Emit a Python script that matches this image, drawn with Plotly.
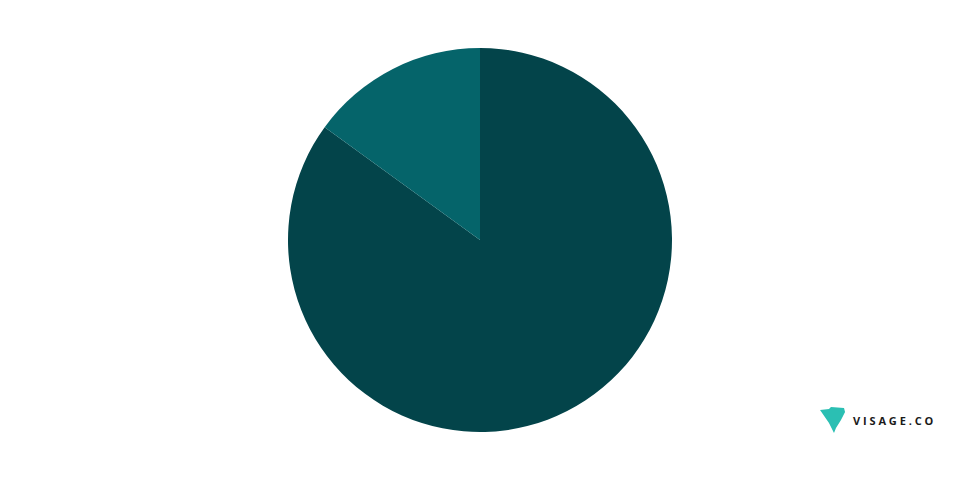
import plotly.graph_objects as go

labels = ["A", "B"]
values = [85, 15]
colors = ["#03444a", "#05646a"]

# logo outline in page pixel coords (decoration, not data)
logo_px = [(820, 410), (829, 409), (831, 407), (844, 408), (845, 412),
           (841, 420), (836, 428), (834, 433), (829, 423)]


# page has an 8px body margin, so paper spans x 8..952, y 48..432
def to_paper(px, py):
    return (px - 8) / 944, (432 - py) / 384


path = "M " + " L ".join("%.4f,%.4f" % to_paper(x, y) for x, y in logo_px) + " Z"

fig = go.Figure(go.Pie(labels=labels, values=values, sort=False, direction="clockwise",
                       rotation=0, marker=dict(colors=colors, line=dict(width=0)),
                       textinfo="none", hoverinfo="label+percent", showlegend=False))

tx, ty = to_paper(851, 420)
fig.update_layout(
    width=960, height=477,
    margin=dict(l=0, r=16, t=40, b=53),
    paper_bgcolor="white", plot_bgcolor="white",
    shapes=[dict(type="path", path=path, xref="paper", yref="paper",
                 fillcolor="#2bbfb3", line=dict(width=0))],
    annotations=[dict(text="V I S A G E . C O", x=tx, y=ty,
                      xref="paper", yref="paper", xanchor="left", yanchor="middle",
                      showarrow=False,
                      font=dict(family="Open Sans", size=11, color="#1a1a1a", weight="bold"))],
)

fig.write_html("out.html")
